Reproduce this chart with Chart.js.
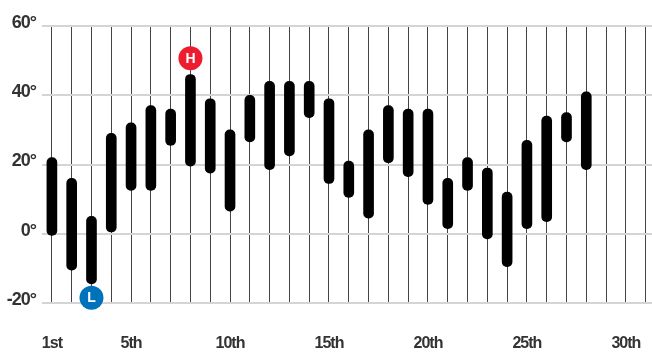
<!DOCTYPE html>
<html>
<head>
<meta charset="utf-8">
<style>
  html, body { margin: 0; padding: 0; background: #fff; }
  canvas { display: block; }
</style>
<script src="https://cdn.jsdelivr.net/npm/chart.js@4"></script>
</head>
<body>
<canvas id="tempChart" width="652" height="352"></canvas>
<script>
const days = [1,2,3,4,5,6,7,8,9,10,11,12,13,14,15,16,17,18,19,20,21,22,23,24,25,26,27,28,29,30,31];
const barDays = [1,2,3,4,5,6,7,8,9,10,11,12,13,14,15,16,17,18,19,20,21,22,23,24,25,26,27,28];
const highs = [22,16,5,29,32,37,36,46,39,30,40,44,44,44,39,21,30,37,36,36,16,22,19,12,27,34,35,41];
const lows = [-0.5,-10.5,-14.5,0.5,12.5,12.5,25.5,19.5,17.5,6.5,26.5,18.5,22.5,33.5,14.5,10.5,4.5,20.5,16.5,8.5,1.5,12.5,-1.5,-9.5,1.5,3.5,26.5,18.5];
const dayLabels = { 1: "1st", 5: "5th", 10: "10th", 15: "15th", 20: "20th", 25: "25th", 30: "30th" };
const yTicks = [-20,0,20,40,60];
const markerDays = [8,3];
const markerValues = [50.7,-18.5];
const markerLetters = ["H","L"];
const markerColors = ["#ed1c2e","#0072bc"];

const labelFont = '"Liberation Sans", sans-serif';

// squeezes the tick labels, the original uses a condensed face
const tightTextPlugin = {
  id: "tightText",
  beforeDraw(chart) {
    chart.ctx.letterSpacing = "-1px";
  },
};

const markerLetterPlugin = {
  id: "markerLetters",
  afterDatasetsDraw(chart) {
    const { ctx } = chart;
    const meta = chart.getDatasetMeta(1);
    ctx.save();
    ctx.letterSpacing = "0px";
    ctx.fillStyle = "#fff";
    ctx.font = `900 14px ${labelFont}`;
    ctx.textAlign = "center";
    ctx.textBaseline = "middle";
    meta.data.forEach((pt, i) => ctx.fillText(markerLetters[i], pt.x, pt.y + 0.5));
    ctx.restore();
  },
};

new Chart(document.getElementById("tempChart").getContext("2d"), {
  data: {
    datasets: [
      {
        type: "bar",
        data: barDays.map((d, i) => ({ x: d, y: [lows[i], highs[i]] })),
        backgroundColor: "#000",
        barThickness: 10,
        borderRadius: 5,
        borderSkipped: false,
        order: 2,
      },
      {
        type: "scatter",
        data: markerDays.map((d, i) => ({ x: d, y: markerValues[i] })),
        backgroundColor: markerColors,
        borderWidth: 0,
        pointRadius: 12,
        pointHoverRadius: 12,
        clip: false,
        order: 1,
      },
    ],
  },
  options: {
    responsive: false,
    animation: false,
    layout: { autoPadding: false, padding: { top: 26, right: 0, left: 0, bottom: 0 } },
    plugins: { legend: { display: false }, tooltip: { enabled: false } },
    scales: {
      x: {
        type: "linear",
        offset: false,
        min: 0.5,
        max: 31.32,
        afterBuildTicks: (axis) => { axis.ticks = days.map((d) => ({ value: d })); },
        afterFit: (axis) => {
          axis.height = 49;
          axis.paddingLeft = 0;
          axis.paddingRight = 0;
        },
        grid: { offset: false, color: "#444", lineWidth: 1, drawTicks: false },
        border: { display: false },
        ticks: {
          autoSkip: false,
          maxRotation: 0,
          padding: 31,
          color: "#333",
          font: { family: labelFont, size: 16, weight: "bold" },
          callback: (v) => dayLabels[v] || "",
        },
      },
      y: {
        min: -20,
        max: 60,
        afterBuildTicks: (axis) => { axis.ticks = yTicks.map((v) => ({ value: v })); },
        afterFit: (axis) => { axis.width = 42; },
        grid: { color: "#d4d4d4", lineWidth: 2, drawTicks: false },
        border: { display: false },
        ticks: {
          padding: 6,
          labelOffset: -3,
          color: "#333",
          font: { family: labelFont, size: 18, weight: "bold" },
          callback: (v) => `${v}°`,
        },
      },
    },
  },
  plugins: [tightTextPlugin, markerLetterPlugin],
});
</script>
</body>
</html>
